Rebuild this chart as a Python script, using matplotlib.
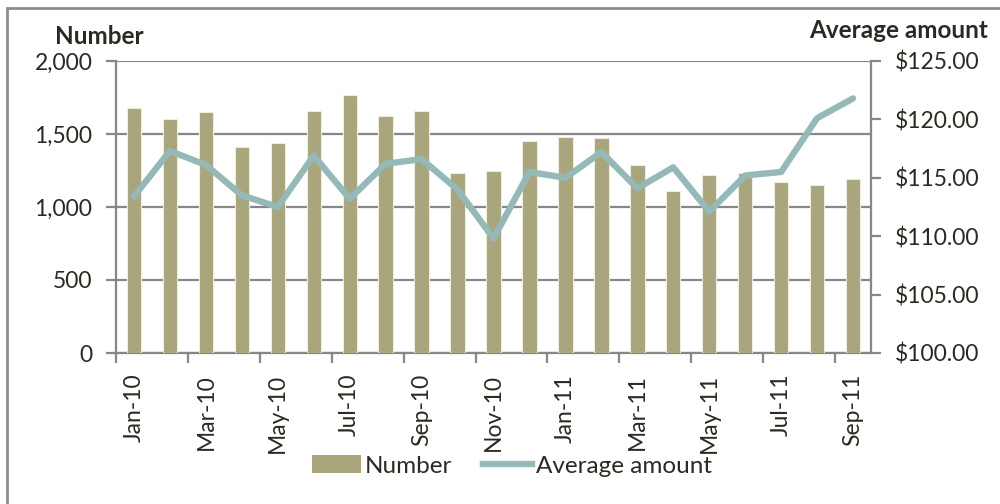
import matplotlib
matplotlib.use("Agg")
import matplotlib.pyplot as plt
from matplotlib.patches import Rectangle
from matplotlib.lines import Line2D
from matplotlib.ticker import FuncFormatter, FixedLocator
import numpy as np

plt.rcParams['font.family'] = ['Lato', 'DejaVu Sans']

months = ["Jan-10", "Feb-10", "Mar-10", "Apr-10", "May-10", "Jun-10", "Jul-10",
          "Aug-10", "Sep-10", "Oct-10", "Nov-10", "Dec-10", "Jan-11", "Feb-11",
          "Mar-11", "Apr-11", "May-11", "Jun-11", "Jul-11", "Aug-11", "Sep-11"]
number = [1675, 1600, 1650, 1410, 1440, 1655, 1765, 1625, 1660, 1235, 1250,
          1450, 1480, 1470, 1285, 1110, 1220, 1230, 1170, 1150, 1190]
avg_amount = [113.4, 117.3, 116.1, 113.5, 112.5, 116.9, 113.2, 116.2, 116.6,
              114.0, 109.8, 115.5, 115.0, 117.2, 114.1, 115.9, 112.1, 115.2,
              115.5, 120.1, 121.8]
left_ticks = [0, 500, 1000, 1500, 2000]
right_ticks = [100, 105, 110, 115, 120, 125]

BAR = '#A9A57C'
LINE = '#95B9B8'
GRID = '#878787'
TXT = '#2B2A22'

fig = plt.figure(figsize=(10, 5.04), dpi=100)
fig.patches.append(Rectangle((7/1000, -0.1), 1.2, 1 - 8/504 + 0.1, transform=fig.transFigure,
                             fill=False, edgecolor='#8C8C8C', linewidth=2))

ax = fig.add_axes([0.116, 1 - 353/504, 0.755, (353 - 61)/504])
x = np.arange(len(months))
ax.bar(x, number, width=0.40, color=BAR, edgecolor='#EEEDE0', linewidth=0.8, zorder=3)
ax.set_xlim(-0.5, len(months) - 0.5)
ax.set_ylim(0, 2000)
ax.set_yticks(left_ticks)
ax.yaxis.set_major_formatter(FuncFormatter(lambda v, p: f"{int(v):,}"))
ax.grid(axis='y', color=GRID, linewidth=1.6, zorder=0)
ax.set_axisbelow(True)

ax.set_xticks(x[::2])
ax.set_xticklabels(months[::2], rotation=90, fontsize=16.5, color=TXT)
ax.xaxis.set_minor_locator(FixedLocator(np.arange(-0.5, len(months), 2)))
ax.tick_params(axis='x', which='major', length=0, pad=15)
ax.tick_params(axis='x', which='minor', length=7, width=1.6, color=GRID)
ax.tick_params(axis='y', length=7, width=1.6, color=GRID, labelsize=16.5, labelcolor=TXT, pad=10)

for s in ['top', 'right']:
    ax.spines[s].set_visible(False)
for s in ['left', 'bottom']:
    ax.spines[s].set_color(GRID)
    ax.spines[s].set_linewidth(1.6)

ax2 = ax.twinx()
ax2.plot(x, avg_amount, color=LINE, linewidth=4.6, solid_capstyle='round', zorder=4)
ax2.set_ylim(100, 125)
ax2.set_yticks(right_ticks)
ax2.yaxis.set_major_formatter(FuncFormatter(lambda v, p: f"${v:.2f}"))
ax2.tick_params(axis='y', length=7, width=1.6, color=GRID, labelsize=16.5, labelcolor=TXT, pad=10)
for s in ['top', 'left', 'bottom']:
    ax2.spines[s].set_visible(False)
ax2.spines['right'].set_color(GRID)
ax2.spines['right'].set_linewidth(1.6)

fig.text(0.055, 1 - 37/504, "Number", fontsize=17.5, fontweight='bold', color=TXT, va='center', ha='left')
fig.text(0.988, 1 - 30/504, "Average amount", fontsize=17.5, fontweight='bold', color=TXT, va='center', ha='right')

handles = [Rectangle((0, 0), 1, 1, facecolor=BAR, edgecolor='none'),
           Line2D([0], [0], color=LINE, linewidth=4.6)]
fig.legend(handles, ["Number", "Average amount"], loc='center', bbox_to_anchor=(0.512, 1 - 466/504),
           ncol=2, frameon=False, fontsize=17.5, handlelength=2.0, handletextpad=0.15,
           columnspacing=1.3, labelcolor=TXT)

fig.savefig("out.png", dpi=100)
